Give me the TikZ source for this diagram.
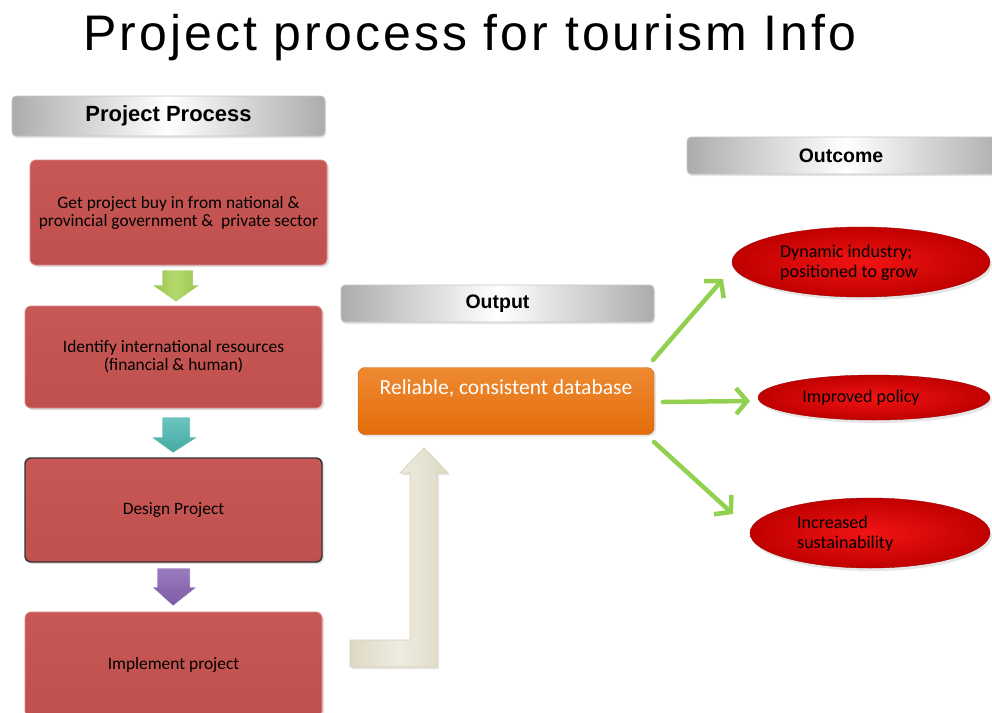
\documentclass[tikz,border=0pt]{standalone}
\usepackage{fontspec}
\setmainfont{Carlito}
\newfontfamily\arialfont{Liberation Sans}
\newfontfamily\titlefont[LetterSpace=6]{Liberation Sans}
\usetikzlibrary{arrows.meta,shadows,shapes.geometric,calc}
\definecolor{boxred}{HTML}{C0504D}
\definecolor{boxredtop}{HTML}{C75855}
\definecolor{boxedge}{HTML}{D98A88}
\definecolor{dbor}{HTML}{E36C0A}
\definecolor{dbortop}{HTML}{EE8A33}
\definecolor{elred}{HTML}{F21414}
\definecolor{elredout}{HTML}{C00000}
\definecolor{arrgreen}{HTML}{92D050}
\definecolor{blkgreen}{HTML}{9BC34F}
\definecolor{blkgreenl}{HTML}{B5D86E}
\definecolor{blkteal}{HTML}{45A9A3}
\definecolor{blktealt}{HTML}{6CC4BE}
\definecolor{blkpurple}{HTML}{7E5AA6}
\definecolor{blkpurplel}{HTML}{9B7CC0}
\definecolor{cream}{HTML}{DDD9C3}
\definecolor{creamlight}{HTML}{EEECE1}
\definecolor{creamedge}{HTML}{C4BD97}
\begin{document}
\begin{tikzpicture}[x=1pt,y=-1pt,
  hdr/.style={rectangle, rounded corners=4pt, draw=gray!45, line width=0.6pt,
    left color=gray!65, right color=gray!65, middle color=white,
    font=\arialfont\bfseries, text=black,
    drop shadow={opacity=0.2,shadow xshift=1pt,shadow yshift=-2pt}},
  redbox/.style={rectangle, rounded corners=6pt, draw=boxedge, line width=0.8pt,
    top color=boxredtop, bottom color=boxred, minimum width=297pt,
    font=\fontsize{17.4}{18}\selectfont, text=black, align=center,
    drop shadow={opacity=0.25,shadow xshift=2pt,shadow yshift=-2pt}},
  outell/.style={ellipse, inner sep=0pt, draw=elredout!85!black, line width=0.4pt,
    inner color=elred, outer color=elredout,
    drop shadow={opacity=0.2,shadow xshift=2pt,shadow yshift=-3pt}},
  elltext/.style={font=\fontsize{18}{20}\selectfont, text=black, align=left, inner sep=0pt},
  greenarrow/.style={draw=arrgreen, line width=4.5pt, line cap=round,
    -{Straight Barb[length=11pt,width=26pt]}}
]
\useasboundingbox (0,0) rectangle (992,712);
\fill[white] (0,0) rectangle (992,712);

% title
\node[anchor=base, inner sep=0pt, font=\titlefont\fontsize{50}{58}\selectfont] (title) at (470,50) {Project process for tourism Info};

% headers
\node[hdr, minimum width=313pt, minimum height=40pt, font=\arialfont\bfseries\fontsize{22}{24}\selectfont] (hp) at (168.5,116) {Project Process};
\node[hdr, minimum width=313pt, minimum height=37pt, font=\arialfont\bfseries\fontsize{19.5}{22}\selectfont] (hout) at (497.5,303.5) {Output};
\node[hdr, minimum width=318pt, minimum height=37pt, font=\arialfont\bfseries\fontsize{19.5}{22}\selectfont] (hoc) at (846,155.5) {\hspace*{-10pt}Outcome};

% process boxes
\node[redbox, minimum height=105pt] (b1) at (178.5,212.5) {Get project buy in from national \&\\provincial government \&\ \ private sector};
\node[redbox, minimum height=102pt] (b2) at (173.5,357) {Identify international resources\\(financial \& human)};
\node[redbox, minimum height=104pt, draw=black!80, line width=1.4pt] (b3) at (173.5,510) {Design Project};
\node[redbox, minimum height=105pt] (b4) at (173.5,664.5) {Implement project};

% block arrows between boxes
\path[left color=blkgreen, right color=blkgreen, middle color=blkgreenl, draw=white, line width=0.5pt]
  (162,270) -- (193,270) -- (193,285) -- (200,285) -- (176,302) -- (152,285) -- (162,285) -- cycle;
\path[top color=blktealt, bottom color=blkteal, draw=white, line width=0.5pt]
  (162,417) -- (190,417) -- (190,437) -- (198,437) -- (173,453) -- (151,437) -- (162,437) -- cycle;
\path[top color=blkpurplel, bottom color=blkpurple, draw=white, line width=0.5pt]
  (157,568) -- (190,568) -- (190,587) -- (197,587) -- (173,606) -- (152,587) -- (157,587) -- cycle;

% cream L-shaped arrow
\path[left color=cream, right color=cream, middle color=creamlight, draw=creamedge!70, line width=0.8pt,
  drop shadow={opacity=0.2,shadow xshift=2pt,shadow yshift=-2pt}]
  (350,640) -- (410,640) -- (410,473) -- (400,473) -- (424,448) -- (448,473) -- (437,473)
  -- (437,667) -- (350,667) -- cycle;

% output box
\node[rectangle, rounded corners=7pt, top color=dbortop, bottom color=dbor, draw=dbor!90!black, line width=0.4pt,
  minimum width=296pt, minimum height=67pt, text=white,
  font=\fontsize{21.5}{24}\selectfont, text height=11pt, text depth=24pt,
  drop shadow={opacity=0.2,shadow xshift=2pt,shadow yshift=-2pt}] (db) at (506,401)
  {Reliable, consistent database};

% outcome ellipses
\node[outell, minimum width=258pt, minimum height=70pt] (o1) at (861,262) {};
\node[elltext] (o1t) at (849,263) {Dynamic industry;\\positioned to grow};
\node[outell, minimum width=232pt, minimum height=45pt] (o2) at (874,397.5) {};
\node[elltext] (o2t) at (861,398) {Improved policy};
\node[outell, minimum width=240pt, minimum height=70pt] (o3) at (870,533) {};
\node[elltext, anchor=west] (o3t) at (797,534) {Increased\\sustainability};

% connectors
\coordinate (a1s) at (653,360);
\coordinate (a1e) at (723,279);
\coordinate (a2s) at (663,402);
\coordinate (a2e) at (750,401);
\coordinate (a3s) at (654,442);
\coordinate (a3e) at (733,514);
\draw[greenarrow] (a1s) -- (a1e);
\draw[greenarrow] (a2s) -- (a2e);
\draw[greenarrow] (a3s) -- (a3e);
\end{tikzpicture}
\end{document}
